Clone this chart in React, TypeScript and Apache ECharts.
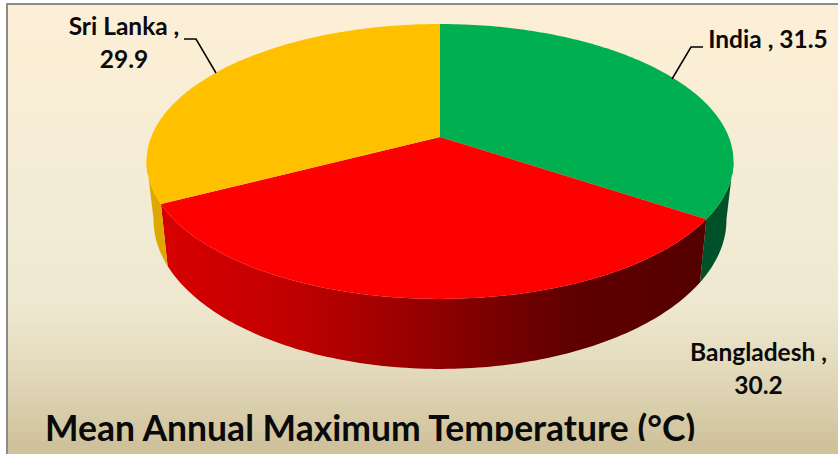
import React, { useEffect, useRef } from "react";
import * as echarts from "echarts";

const categories = ["India", "Bangladesh", "Sri Lanka"];
const temperatures = [31.5, 30.2, 29.9];
const chartTitle = "Mean Annual Maximum Temperature (°C)";

const topColors = ["#00b050", "#ff0000", "#ffc000"];
const wallFills: any[] = [
  "#00502a",
  {
    type: "linear", x: 0, y: 0, x2: 1, y2: 0,
    colorStops: [
      { offset: 0, color: "#d80000" },
      { offset: 0.25, color: "#bf0000" },
      { offset: 0.5, color: "#900000" },
      { offset: 0.75, color: "#5f0000" },
      { offset: 1, color: "#540000" },
    ],
  },
  "#dfa800",
];
// Portion of each slice's rim (degrees clockwise from 12 o'clock) that faces the viewer.
const wallLimits = [[100, 180], [0, 360], [180, 260]];

// Perspective disc: apex of the pie, half-axes, foreshortening and rim depth.
const apexX = 440;
const apexY = 137;
const scaleX = 288.8;
const scaleY = 133.1;
const persp = 0.178;

const project = (deg: number): [number, number] => {
  const t = (deg * Math.PI) / 180;
  const X = Math.sin(t);
  const Y = -Math.cos(t);
  const w = 1 - persp * Y;
  return [apexX + (scaleX * X) / w, apexY + (scaleY * Y) / w];
};
const projectBottom = (deg: number): [number, number] => {
  const [x, y] = project(deg);
  return [apexX + (x - apexX) * 0.976, y + 62.5 + 0.084 * (y - 210)];
};

const arc = (from: number, to: number, fn: (d: number) => [number, number]) => {
  const n = Math.max(2, Math.ceil(Math.abs(to - from)));
  const pts: [number, number][] = [];
  for (let i = 0; i <= n; i++) pts.push(fn(from + ((to - from) * i) / n));
  return pts;
};

const labelFont = 'bold 24.5px Lato, "Noto Sans", sans-serif';
const labelSpots = [
  { x: 768, y: 38, wrap: false, line: [[703, 47], [691, 47], [672, 79]] },
  { x: 758.5, y: 368, wrap: true, line: null },
  { x: 124, y: 42, wrap: true, line: [[184, 39], [196, 39], [216, 73]] },
];

const total = temperatures.reduce((a, b) => a + b, 0);

const renderSlice = (params: any, api: any) => {
  const i = params.dataIndex;
  const value = api.value(0);
  const before = temperatures.slice(0, i).reduce((a, b) => a + b, 0);
  const start = (before / total) * 360;
  const end = ((before + value) / total) * 360;

  const children: any[] = [];
  const wallFrom = Math.max(start, wallLimits[i][0]);
  const wallTo = Math.min(end, wallLimits[i][1]);
  children.push({
    type: "polygon",
    z2: 1,
    shape: { points: [...arc(wallFrom, wallTo, project), ...arc(wallTo, wallFrom, projectBottom)] },
    style: { fill: wallFills[i] },
  });
  children.push({
    type: "polygon",
    z2: 2,
    shape: { points: [[apexX, apexY], ...arc(start, end, project)] },
    style: { fill: topColors[i] },
  });

  const spot = labelSpots[i];
  if (spot.line) {
    children.push({
      type: "polyline",
      z2: 3,
      shape: { points: spot.line },
      style: { stroke: "#000000", lineWidth: 1.5, fill: "none" },
    });
  }
  children.push({
    type: "text",
    z2: 4,
    style: {
      x: spot.x,
      y: spot.y,
      text: `${categories[i]} ,${spot.wrap ? "\n" : " "}${value}`,
      font: labelFont,
      fill: "#0a0a0a",
      align: "center",
      verticalAlign: "middle",
      lineHeight: 33,
    },
  });
  return { type: "group", children };
};

export default function App() {
  const ref = useRef<HTMLDivElement>(null);

  useEffect(() => {
    const chart = echarts.init(ref.current!, undefined, { renderer: "svg" });
    chart.setOption({
      animation: false,
      backgroundColor: "#ffffff",
      title: {
        text: chartTitle,
        left: 45,
        top: 406,
        padding: 0,
        textStyle: {
          fontFamily: 'Lato, "Noto Sans", sans-serif',
          fontWeight: "bold",
          fontSize: 35.5,
          color: "#0a0a0a",
          lineHeight: 42,
        },
      },
      graphic: {
        elements: [
          {
            type: "rect",
            z: -10,
            shape: { x: 7, y: 4, width: 860, height: 480 },
            style: {
              fill: {
                type: "linear", x: 0, y: 0, x2: 0, y2: 1,
                colorStops: [
                  { offset: 0, color: "#fdefd6" },
                  { offset: 0.47, color: "#f2ebd5" },
                  { offset: 0.63, color: "#efe8d0" },
                  { offset: 0.77, color: "#e2d9ba" },
                  { offset: 0.94, color: "#cdbf98" },
                  { offset: 1, color: "#cdbf98" },
                ],
              },
              stroke: "#8c8c8c",
              lineWidth: 2,
            },
          },
          {
            // Lower band of the panel, laid over the caption's descenders.
            type: "rect",
            z: 100,
            shape: { x: 8, y: 441, width: 830, height: 13 },
            style: { fill: "#cfc19b" },
          },
        ],
      },
      series: [
        {
          type: "custom",
          coordinateSystem: "none",
          silent: true,
          clip: false,
          data: temperatures.map((v) => [v]),
          renderItem: renderSlice,
        },
      ],
    });
    return () => chart.dispose();
  }, []);

  return <div ref={ref} style={{ position: "absolute", left: 0, top: 0, width: 838, height: 454 }} />;
}
